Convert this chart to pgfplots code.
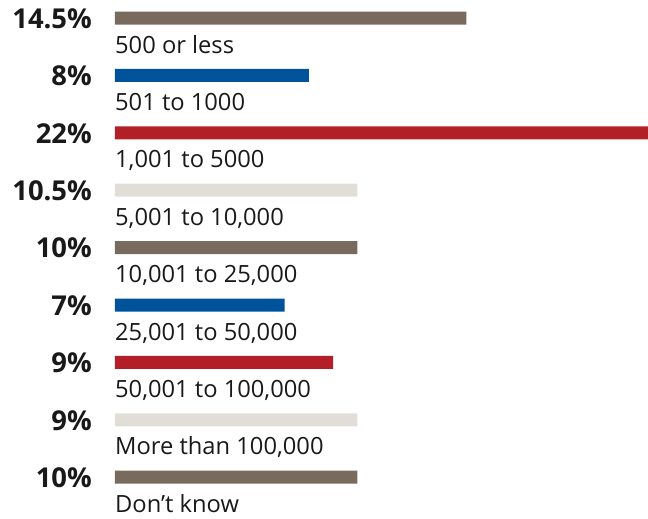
\documentclass[border=0pt]{standalone}
\usepackage{fontspec}
\setmainfont{Open Sans}
\usepackage{pgfplots}
\usepackage{pgfplotstable}
\pgfplotsset{compat=1.18}
\definecolor{cbrown}{RGB}{120,106,92}
\definecolor{cblue}{RGB}{0,82,155}
\definecolor{cred}{RGB}{178,31,38}
\definecolor{clight}{RGB}{224,222,215}
\pgfplotstableread[col sep=semicolon, row sep=\\]{
x;y;label\\
0;0.61;500 or less\\
0;1.61;501 to 1000\\
0;2.61;1,001 to 5000\\
0;3.61;5,001 to 10,000\\
0;4.61;10,001 to 25,000\\
0;5.61;25,001 to 50,000\\
0;6.61;50,001 to 100,000\\
0;7.61;More than 100,000\\
0;8.61;Don’t know\\
}\cats
\pgfplotstableread[col sep=semicolon, row sep=\\]{
x;y;label\\
-0.95;0.18;14.5\%\\
-0.95;1.18;8\%\\
-0.95;2.18;22\%\\
-0.95;3.18;10.5\%\\
-0.95;4.18;10\%\\
-0.95;5.18;7\%\\
-0.95;6.18;9\%\\
-0.95;7.18;9\%\\
-0.95;8.18;10\%\\
}\vals
\begin{document}
\begin{tikzpicture}
\begin{axis}[
  scale only axis, width=648bp, height=519bp,
  xmin=-4.746, xmax=22, ymin=-0.314, ymax=8.728, y dir=reverse,
  hide axis, clip=false,
  bar width=13bp, bar shift=0pt]
\addplot[xbar, fill=cbrown, draw=none] coordinates {(14.5,0) (10,4) (10,8)};
\addplot[xbar, fill=cblue, draw=none] coordinates {(8,1) (7,5)};
\addplot[xbar, fill=cred, draw=none] coordinates {(22,2) (9,6)};
\addplot[xbar, fill=clight, draw=none] coordinates {(10,3) (10,7)};
\addplot[draw=none, mark=none, nodes near coords, point meta=explicit symbolic,
  every node near coord/.style={anchor=base west, inner sep=0pt, text=black!90,
  font=\fontsize{23.8}{28}\selectfont}]
  table[x=x, y=y, meta=label] {\cats};
\addplot[draw=none, mark=none, nodes near coords, point meta=explicit symbolic,
  every node near coord/.style={anchor=base east, inner sep=0pt, text=black!90,
  font=\fontsize{27.5}{32}\selectfont\bfseries}]
  table[x=x, y=y, meta=label] {\vals};
\end{axis}
\pgfresetboundingbox
\useasboundingbox (current axis.south west) rectangle (current axis.north east);
\end{tikzpicture}
\end{document}
